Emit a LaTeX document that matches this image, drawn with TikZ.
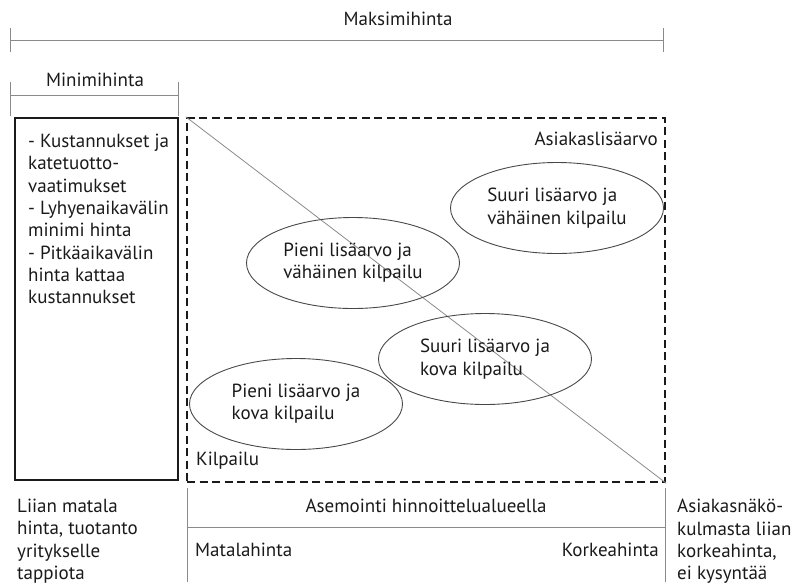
\documentclass[tikz,border=0pt]{standalone}
\usepackage{fontspec}
\setmainfont{PT Sans}
\usetikzlibrary{shapes.geometric}
\definecolor{ink}{HTML}{1A1A1A}
\definecolor{rule}{HTML}{8A8A8A}
\tikzset{
  lbl/.style={text=ink, font=\fontsize{19}{22.3}\selectfont, inner sep=0pt},
  blocktxt/.style={lbl, align=left},
  scaleline/.style={draw=rule, line width=0.9pt},
  oval/.style={ellipse, draw=ink!80, line width=0.9pt, minimum width=213pt,
    minimum height=91pt, inner sep=0pt, blocktxt},
  costbox/.style={draw=ink, line width=2.4pt, inner sep=0pt},
  fieldbox/.style={draw=ink, line width=2.4pt, dash pattern=on 8pt off 4.5pt, inner sep=0pt},
}
\begin{document}
\begin{tikzpicture}[x=1pt, y=-1pt]
\useasboundingbox (0,0) rectangle (793,587);

% maximum price scale
\node[lbl] (maks) at (398,19) {Maksimihinta};
\coordinate (maxL) at (10,40);
\coordinate (maxR) at (663,40);
\draw[scaleline] (maxL) -- (maxR);
\draw[scaleline] ([yshift=-12pt]maxL) -- ([yshift=12pt]maxL);
\draw[scaleline] ([yshift=-12pt]maxR) -- ([yshift=12pt]maxR);

% minimum price scale
\node[lbl] (mini) at (95,80) {Minimihinta};
\coordinate (minL) at (10,95);
\coordinate (minR) at (178,95);
\draw[scaleline] (minL) -- (minR);
\draw[scaleline] ([yshift=-21pt]minL) -- ([yshift=13pt]minL);
\draw[scaleline] ([yshift=-21pt]minR) -- ([yshift=13pt]minR);

% cost box
\node[costbox, minimum width=163pt, minimum height=362pt] (cost) at (96.5,299) {};
\node[blocktxt, anchor=north west] (costtxt) at (28,134)
  {- Kustannukset ja\\katetuotto-\\vaatimukset\\- Lyhyenaikavälin\\minimi hinta\\- Pitkäaikavälin\\hinta kattaa\\kustannukset};

% pricing field
\node[fieldbox, minimum width=478pt, minimum height=364pt] (field) at (426,300) {};
\draw[draw=rule, line width=0.8pt] (field.north west) -- (field.south east);
\node[lbl, anchor=east] (value) at (658,139) {Asiakaslisäarvo};
\node[lbl, anchor=west] (comp) at (196,461) {Kilpailu};

\node[oval] (e1) at (557,208) {Suuri lisäarvo ja\\vähäinen kilpailu};
\node[oval] (e2) at (353,263) {Pieni lisäarvo ja\\vähäinen kilpailu};
\node[oval] (e3) at (485,359) {Suuri lisäarvo ja\\kova kilpailu};
\node[oval] (e4) at (296,404) {Pieni lisäarvo ja\\kova kilpailu};

% positioning scale below
\coordinate (posLt) at (187,488);
\coordinate (posLb) at (187,582);
\coordinate (posRt) at (665,488);
\coordinate (posRb) at (665,582);
\coordinate (posL) at (187,527);
\coordinate (posR) at (665,527);
\draw[scaleline] (posLt) -- (posLb);
\draw[scaleline] (posRt) -- (posRb);
\draw[scaleline] (posL) -- (posR);
\node[lbl] (posit) at (426,506) {Asemointi hinnoittelualueella};
\node[lbl, anchor=west] (low) at (195,550) {Matalahinta};
\node[lbl, anchor=east] (high) at (659,550) {Korkeahinta};

\node[blocktxt, anchor=north west] (tooLow) at (17,499)
  {Liian matala\\hinta, tuotanto\\yritykselle\\tappiota};
\node[blocktxt, anchor=north west] (tooHigh) at (677,499)
  {Asiakasnäkö-\\kulmasta liian\\korkeahinta,\\ei kysyntää};
\end{tikzpicture}
\end{document}
